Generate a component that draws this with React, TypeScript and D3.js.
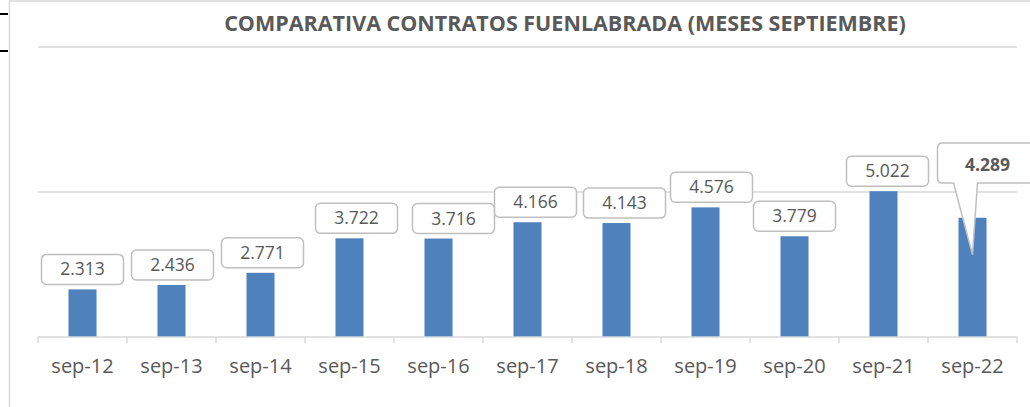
import React from 'react';
import * as d3 from 'd3';

const categories = ['sep-12', 'sep-13', 'sep-14', 'sep-15', 'sep-16', 'sep-17', 'sep-18', 'sep-19', 'sep-20', 'sep-21', 'sep-22'];
const contratos = [2313, 2436, 2771, 3722, 3716, 4166, 4143, 4576, 3779, 5022, 4289];
const valueLabels = ['2.313', '2.436', '2.771', '3.722', '3.716', '4.166', '4.143', '4.576', '3.779', '5.022', '4.289'];
const gridTicks = [1000, 5000, 9000];

// small horizontal shifts of the label boxes, as they sit in the original
const labelNudge = [0, 1, 2, 7, 15, 8, 8, 6, 0, 4, 0];

const W = 1030;
const H = 407;
const font = '"Open Sans", sans-serif';
const grey = '#595959';

const App: React.FC = () => {
  const x = d3.scaleBand<string>().domain(categories).range([38, 1017]).padding(0);
  const y = d3.scaleLinear().domain([1000, 9000]).range([337, 47]);
  const step = x.bandwidth();
  const barW = step * 0.315;
  const boxW = 82;
  const boxH = 30;

  const last = categories.length - 1;

  // callout for the last bar
  const lc = x(categories[last])! + step / 2;
  const calloutTop = 143;
  const calloutBottom = 183;
  const cx0 = lc - 35;
  const cx1 = cx0 + 100;
  const r = 5;
  const tipY = y(contratos[last]) + 37;
  const calloutPath = [
    `M${cx0 + r},${calloutTop}`,
    `H${cx1 - r}`, `Q${cx1},${calloutTop} ${cx1},${calloutTop + r}`,
    `V${calloutBottom - r}`, `Q${cx1},${calloutBottom} ${cx1 - r},${calloutBottom}`,
    `H${lc + 5}`, `L${lc},${tipY}`, `L${lc - 19},${calloutBottom}`,
    `H${cx0 + r}`, `Q${cx0},${calloutBottom} ${cx0},${calloutBottom - r}`,
    `V${calloutTop + r}`, `Q${cx0},${calloutTop} ${cx0 + r},${calloutTop}`, 'Z',
  ].join(' ');

  return (
    <svg width={W} height={H} style={{ position: 'absolute', left: 0, top: 0, background: '#fff' }}>
      {/* frame */}
      <line x1={9.5} x2={9.5} y1={0} y2={H} stroke="#d9d9d9" strokeWidth={1.5} />
      <line x1={9} x2={W} y1={1} y2={1} stroke="#d9d9d9" strokeWidth={1.5} />
      <line x1={0} x2={8} y1={14} y2={14} stroke="#000" strokeWidth={2} />
      <line x1={0} x2={8} y1={51} y2={51} stroke="#000" strokeWidth={2} />

      <text x={565} y={31} textAnchor="middle" fontFamily={font} fontWeight="bold" fontSize={21.5} fill={grey}>
        COMPARATIVA CONTRATOS FUENLABRADA (MESES SEPTIEMBRE)
      </text>

      {gridTicks.slice(1).map(t => (
        <line key={t} x1={38} x2={1017} y1={y(t)} y2={y(t)} stroke="#d9d9d9" strokeWidth={1.5} />
      ))}

      {contratos.map((v, i) => (
        <rect key={categories[i]} x={x(categories[i])! + (step - barW) / 2} y={y(v)} width={barW} height={y(1000) - y(v)} fill="#4f81bd" />
      ))}

      {/* x axis */}
      <line x1={38} x2={1017} y1={y(1000)} y2={y(1000)} stroke="#d9d9d9" strokeWidth={1.5} />
      {[...categories.map(c => x(c)!), 1017].map((px, i) => (
        <line key={i} x1={px} x2={px} y1={y(1000)} y2={y(1000) + 6} stroke="#d9d9d9" strokeWidth={1.5} />
      ))}
      {categories.map(c => (
        <text key={c} x={x(c)! + step / 2} y={373} textAnchor="middle" fontFamily={font} fontSize={20} fill={grey}>{c}</text>
      ))}

      {/* value labels */}
      {contratos.slice(0, last).map((v, i) => {
        const c = x(categories[i])! + step / 2 + labelNudge[i];
        const bottom = y(v) - 5;
        return (
          <g key={i}>
            <rect x={c - boxW / 2} y={bottom - boxH} width={boxW} height={boxH} rx={5} fill="#fff" stroke="#bfbfbf" strokeWidth={1.5} />
            <text x={c} y={bottom - boxH / 2 + 6} textAnchor="middle" fontFamily={font} fontSize={17.5} fill={grey}>{valueLabels[i]}</text>
          </g>
        );
      })}

      <path d={calloutPath} fill="#fff" stroke="#bfbfbf" strokeWidth={1.5} />
      <text x={cx0 + 50} y={171} textAnchor="middle" fontFamily={font} fontWeight="bold" fontSize={17.5} fill={grey}>{valueLabels[last]}</text>
    </svg>
  );
};

export default App;
